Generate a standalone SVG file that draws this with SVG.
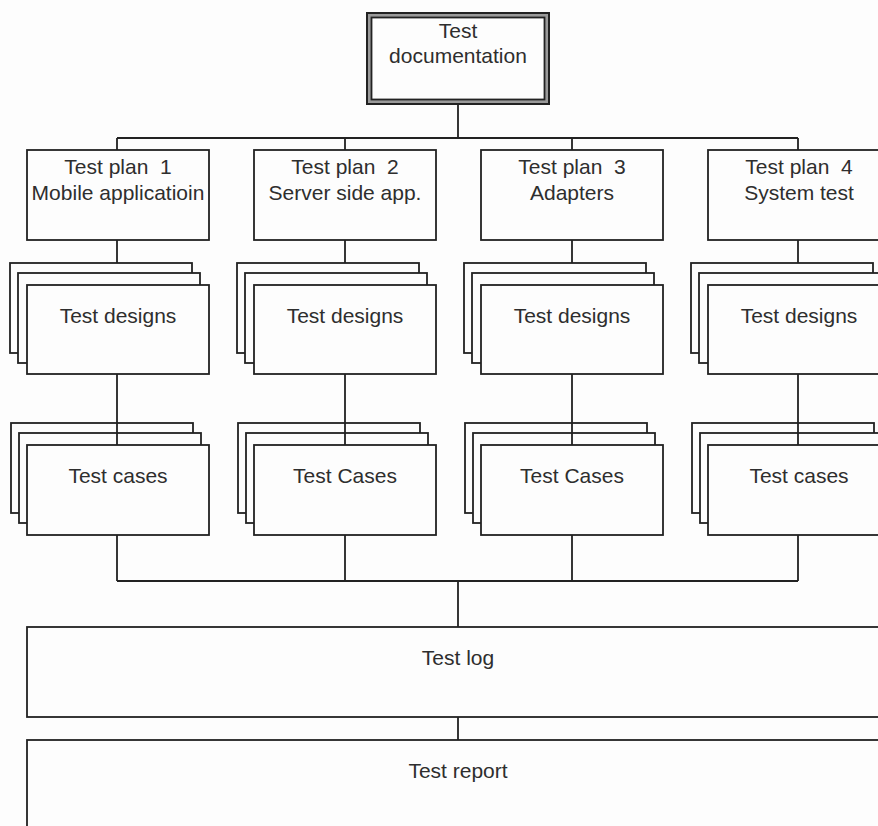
<svg xmlns="http://www.w3.org/2000/svg" width="878" height="826" viewBox="0 0 878 826">
<defs>
<style>
.b{fill:#fdfdfd;stroke:#222;stroke-width:1.8}
.t{font-family:"Liberation Sans",Arial,sans-serif;font-size:21px;fill:#2e2e2e;text-anchor:middle;white-space:pre}
.c{fill:none;stroke:#222;stroke-width:1.8}
</style>
</defs>
<rect width="878" height="826" fill="#fdfdfd"/>
<g id="root">
<rect x="367" y="13" width="182" height="91" fill="#9a9a9a" stroke="#222" stroke-width="2"/>
<rect x="371.5" y="17.5" width="173" height="82" fill="#fdfdfd" stroke="#222" stroke-width="1.8"/>
<text class="t" x="458" y="38">Test</text>
<text class="t" x="458" y="63">documentation</text>
</g>
<g id="plan1"><rect class="b" x="27" y="150" width="182" height="90"/><text class="t" x="118" y="174">Test plan  1</text><text class="t" x="118" y="200">Mobile applicatioin</text></g>
<g id="plan2"><rect class="b" x="254" y="150" width="182" height="90"/><text class="t" x="345" y="174">Test plan  2</text><text class="t" x="345" y="200">Server side app.</text></g>
<g id="plan3"><rect class="b" x="481" y="150" width="182" height="90"/><text class="t" x="572" y="174">Test plan  3</text><text class="t" x="572" y="200">Adapters</text></g>
<g id="plan4"><rect class="b" x="708" y="150" width="182" height="90"/><text class="t" x="799" y="174">Test plan  4</text><text class="t" x="799" y="200">System test</text></g>
<g id="designs1"><rect class="b" x="10" y="263" width="182" height="90"/><rect class="b" x="18" y="273" width="182" height="90"/><rect class="b" x="27" y="285" width="182" height="89"/><text class="t" x="118" y="323">Test designs</text></g>
<g id="designs2"><rect class="b" x="237" y="263" width="182" height="90"/><rect class="b" x="245" y="273" width="182" height="90"/><rect class="b" x="254" y="285" width="182" height="89"/><text class="t" x="345" y="323">Test designs</text></g>
<g id="designs3"><rect class="b" x="464" y="263" width="182" height="90"/><rect class="b" x="472" y="273" width="182" height="90"/><rect class="b" x="481" y="285" width="182" height="89"/><text class="t" x="572" y="323">Test designs</text></g>
<g id="designs4"><rect class="b" x="691" y="263" width="182" height="90"/><rect class="b" x="699" y="273" width="182" height="90"/><rect class="b" x="708" y="285" width="182" height="89"/><text class="t" x="799" y="323">Test designs</text></g>
<g id="cases1"><rect class="b" x="11" y="423" width="182" height="90"/><rect class="b" x="19" y="433" width="182" height="90"/><rect class="b" x="27" y="445" width="182" height="90"/><text class="t" x="118" y="483">Test cases</text></g>
<g id="cases2"><rect class="b" x="238" y="423" width="182" height="90"/><rect class="b" x="246" y="433" width="182" height="90"/><rect class="b" x="254" y="445" width="182" height="90"/><text class="t" x="345" y="483">Test Cases</text></g>
<g id="cases3"><rect class="b" x="465" y="423" width="182" height="90"/><rect class="b" x="473" y="433" width="182" height="90"/><rect class="b" x="481" y="445" width="182" height="90"/><text class="t" x="572" y="483">Test Cases</text></g>
<g id="cases4"><rect class="b" x="692" y="423" width="182" height="90"/><rect class="b" x="700" y="433" width="182" height="90"/><rect class="b" x="708" y="445" width="182" height="90"/><text class="t" x="799" y="483">Test cases</text></g>
<g id="log"><rect class="b" x="27" y="627" width="870" height="90"/><text class="t" x="458" y="665">Test log</text></g>
<g id="report"><rect class="b" x="27" y="740" width="870" height="100"/><text class="t" x="458" y="778">Test report</text></g>
<g id="connectors">
<path class="c" d="M458 104V138M117 138H798M117 138V150M345 138V150M572 138V150M798 138V150"/>
<path class="c" d="M117 240V263M345 240V263M572 240V263M798 240V263"/>
<path class="c" d="M117 374V445M345 374V445M572 374V445M798 374V445"/>
<path class="c" d="M117 535V581M345 535V581M572 535V581M798 535V581M117 581H798M458 581V627M458 717V740"/>
</g>
</svg>
